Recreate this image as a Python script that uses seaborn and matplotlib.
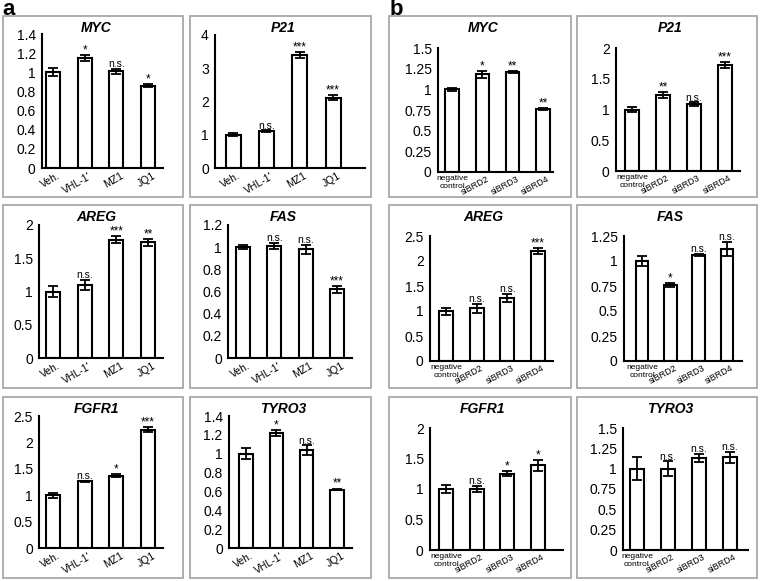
import numpy as np
import pandas as pd
import seaborn as sns
import matplotlib.pyplot as plt
import matplotlib.transforms as mtransforms
from matplotlib.patches import Rectangle

# categories
drug_groups = ["Veh.", "VHL-1'", "MZ1", "JQ1"]
sirna_groups = ["negative\ncontrol", "siBRD2", "siBRD3", "siBRD4"]

# panel a: drug treatment, relative expression
a_myc = [1.00, 1.15, 1.01, 0.86]
a_myc_err = [0.04, 0.03, 0.025, 0.015]
a_myc_sig = ["", "*", "n.s.", "*"]

a_p21 = [1.00, 1.10, 3.40, 2.12]
a_p21_err = [0.04, 0.03, 0.08, 0.08]
a_p21_sig = ["", "n.s.", "***", "***"]

a_areg = [1.00, 1.10, 1.78, 1.74]
a_areg_err = [0.08, 0.08, 0.05, 0.05]
a_areg_sig = ["", "n.s.", "***", "**"]

a_fas = [1.00, 1.01, 0.98, 0.62]
a_fas_err = [0.02, 0.03, 0.04, 0.03]
a_fas_sig = ["", "n.s.", "n.s.", "***"]

a_fgfr1 = [1.00, 1.26, 1.37, 2.24]
a_fgfr1_err = [0.05, 0.01, 0.03, 0.05]
a_fgfr1_sig = ["", "n.s.", "*", "***"]

a_tyro3 = [1.00, 1.22, 1.04, 0.62]
a_tyro3_err = [0.06, 0.03, 0.05, 0.01]
a_tyro3_sig = ["", "*", "n.s.", "**"]

# panel b: siRNA knockdown, relative expression
b_myc = [1.00, 1.18, 1.21, 0.76]
b_myc_err = [0.02, 0.04, 0.015, 0.015]
b_myc_sig = ["", "*", "**", "**"]

b_p21 = [1.00, 1.24, 1.09, 1.72]
b_p21_err = [0.04, 0.05, 0.025, 0.05]
b_p21_sig = ["", "**", "n.s.", "***"]

b_areg = [1.00, 1.06, 1.27, 2.20]
b_areg_err = [0.07, 0.09, 0.08, 0.06]
b_areg_sig = ["", "n.s.", "n.s.", "***"]

b_fas = [1.00, 0.76, 1.06, 1.12]
b_fas_err = [0.05, 0.02, 0.01, 0.07]
b_fas_sig = ["", "*", "n.s.", "n.s."]

b_fgfr1 = [1.00, 1.00, 1.25, 1.39]
b_fgfr1_err = [0.06, 0.05, 0.04, 0.09]
b_fgfr1_sig = ["", "n.s.", "*", "*"]

b_tyro3 = [1.00, 1.00, 1.13, 1.14]
b_tyro3_err = [0.14, 0.09, 0.05, 0.07]
b_tyro3_sig = ["", "n.s.", "n.s.", "n.s."]

# (title, groups, values, errors, sig, ymax, ystep)
panels = [
    ("MYC", drug_groups, a_myc, a_myc_err, a_myc_sig, 1.4, 0.2),
    ("P21", drug_groups, a_p21, a_p21_err, a_p21_sig, 4, 1),
    ("MYC", sirna_groups, b_myc, b_myc_err, b_myc_sig, 1.5, 0.25),
    ("P21", sirna_groups, b_p21, b_p21_err, b_p21_sig, 2, 0.5),
    ("AREG", drug_groups, a_areg, a_areg_err, a_areg_sig, 2, 0.5),
    ("FAS", drug_groups, a_fas, a_fas_err, a_fas_sig, 1.2, 0.2),
    ("AREG", sirna_groups, b_areg, b_areg_err, b_areg_sig, 2.5, 0.5),
    ("FAS", sirna_groups, b_fas, b_fas_err, b_fas_sig, 1.25, 0.25),
    ("FGFR1", drug_groups, a_fgfr1, a_fgfr1_err, a_fgfr1_sig, 2.5, 0.5),
    ("TYRO3", drug_groups, a_tyro3, a_tyro3_err, a_tyro3_sig, 1.4, 0.2),
    ("FGFR1", sirna_groups, b_fgfr1, b_fgfr1_err, b_fgfr1_sig, 2, 0.5),
    ("TYRO3", sirna_groups, b_tyro3, b_tyro3_err, b_tyro3_sig, 1.5, 0.25),
]

# pixel layout: y-axis x, x-axis end, y of zero, y of top, first bar centre, last bar centre
layout = [
    (42, 163, 168, 34, 53, 148),
    (215, 365, 168, 35, 233, 333),
    (438, 553, 172, 48, 452, 543),
    (616, 740, 171, 48, 632, 725),
    (39, 163, 358, 225, 53, 148),
    (228, 352, 358, 225, 243, 337),
    (430, 553, 361, 236, 446, 538),
    (624, 742, 361, 236, 642, 727),
    (39, 163, 548, 416, 53, 148),
    (229, 352, 548, 416, 246, 337),
    (430, 563, 550, 428, 446, 538),
    (623, 748, 550, 428, 637, 730),
]
box_cols = [(3, 183), (190, 371), (389, 571), (577, 757)]
box_rows = [(16, 197), (205, 388), (397, 578)]

W, H = 762, 581

sns.set_theme(style="white")
plt.rcParams['font.family'] = ['Liberation Sans', 'DejaVu Sans']
plt.rcParams['text.color'] = 'black'

fig = plt.figure(figsize=(W / 100, H / 100), dpi=100)
# nudge rotated tick labels a few pixels to the right
nudge = mtransforms.ScaledTranslation(4 / 100, 0, fig.dpi_scale_trans)

for k, (title, groups, vals, errs, sig, ymax, ystep) in enumerate(panels):
    row, col = divmod(k, 4)
    bx0, bx1 = box_cols[col]
    by0, by1 = box_rows[row]
    fig.patches.append(Rectangle((bx0 / W, 1 - by1 / H), (bx1 - bx0) / W, (by1 - by0) / H,
                                 transform=fig.transFigure, fill=False,
                                 edgecolor='#a8a8a8', linewidth=1.3))

    left, right, y0, ytop, c0, c3 = layout[k]
    ax = fig.add_axes([left / W, 1 - y0 / H, (right - left) / W, (y0 - ytop) / H])
    ax.patch.set_alpha(0)

    df = pd.DataFrame({"group": groups, "value": vals})
    sns.barplot(data=df, x="group", y="value", color="white", saturation=1,
                edgecolor="black", linewidth=1.5, width=0.45, errorbar=None, ax=ax)
    ax.errorbar(np.arange(len(vals)), vals, yerr=errs, fmt="none", ecolor="black",
                elinewidth=1.3, capsize=3.5, capthick=1.3)

    sp = (c3 - c0) / 3
    ax.set_xlim(-(c0 - left) / sp, 3 + (right - c3) / sp)
    ax.set_ylim(0, ymax)
    yt = np.arange(0, ymax + ystep / 2, ystep)
    ax.set_yticks(yt)
    ax.set_yticklabels([f"{v:g}" for v in yt], fontsize=10)
    ax.set_xlabel("")
    ax.set_ylabel("")

    for s in ["top", "right"]:
        ax.spines[s].set_visible(False)
    for s in ["left", "bottom"]:
        ax.spines[s].set_color("black")
        ax.spines[s].set_linewidth(1.5)
    ax.tick_params(axis="y", direction="inout", length=6, width=1.3, pad=1.5,
                   colors="black")
    ax.tick_params(axis="x", length=0, pad=2, colors="black")

    ax.set_xticks(range(4))
    if col < 2:
        ax.set_xticklabels(groups, fontsize=7.5, rotation=30, ha="right",
                           rotation_mode="anchor")
        for lab in ax.get_xticklabels():
            lab.set_transform(lab.get_transform() + nudge)
    else:
        ax.set_xticklabels(groups, fontsize=6.5)
        for i, lab in enumerate(ax.get_xticklabels()):
            if i == 0:
                lab.set_rotation(0)
                lab.set_ha("center")
                lab.set_fontsize(6)
                lab.set_linespacing(1.3)
            else:
                lab.set_rotation(28)
                lab.set_ha("right")
                lab.set_va("top")
                lab.set_rotation_mode("anchor")
                lab.set_transform(lab.get_transform() + nudge)

    for i, (v, e, s) in enumerate(zip(vals, errs, sig)):
        if s:
            ax.annotate(s, (i, v + e), xytext=(0, 1.2), textcoords="offset points",
                        ha="center", va="baseline", fontsize=8.5 if "*" in s else 7.5)

    fig.text((bx0 + bx1) / 2 / W + 3 / W, 1 - (by0 + 12) / H, title, ha="center",
             va="center", fontsize=10, fontweight="bold", fontstyle="italic")

fig.text(2 / W, 1 + 1 / H, "a", fontsize=16, fontweight="bold", va="top", ha="left")
fig.text(390 / W, 1 + 1 / H, "b", fontsize=16, fontweight="bold", va="top", ha="left")

fig.savefig("out.png", dpi=100)
